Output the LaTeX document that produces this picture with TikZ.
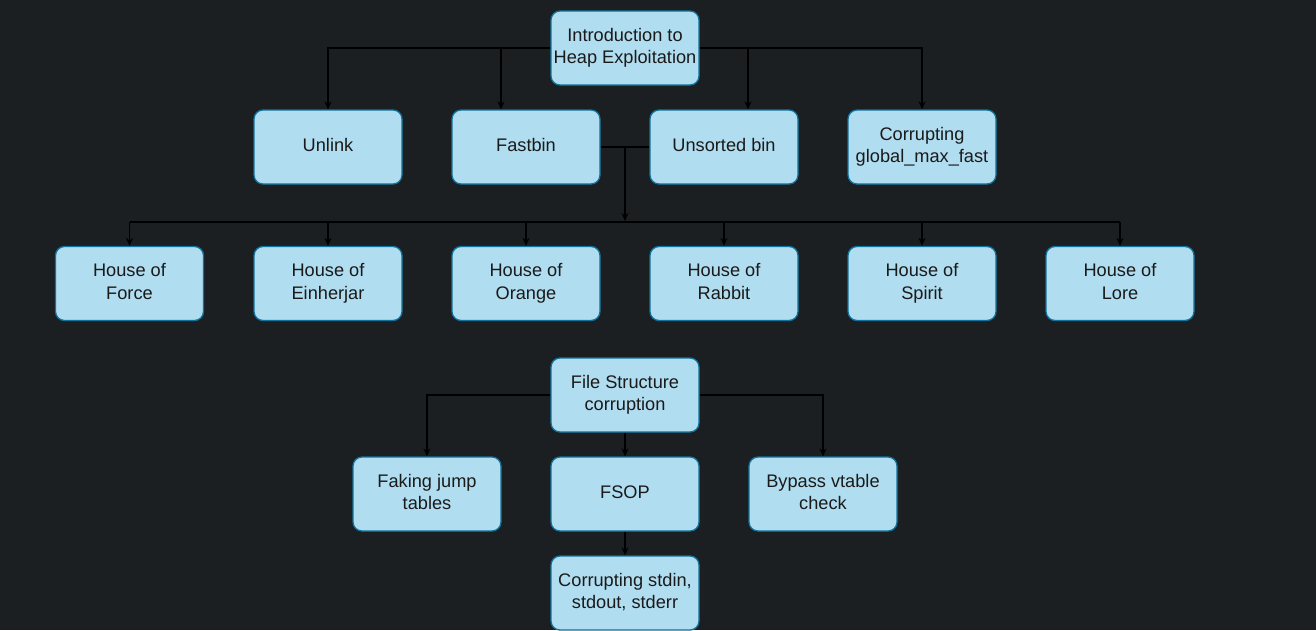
\documentclass[tikz,border=0pt]{standalone}
\usepackage{fontspec}
\setmainfont{Liberation Sans}
\usetikzlibrary{arrows.meta,calc}
\definecolor{bg}{HTML}{1C1F22}
\definecolor{boxfill}{HTML}{B1DDF0}
\definecolor{boxline}{HTML}{10739E}
\definecolor{txt}{HTML}{1A1A1A}
\tikzset{
  box/.style={draw=boxline, fill=boxfill, line width=1.3pt, rounded corners=9pt,
    minimum width=148pt, minimum height=74pt, align=center, text=txt,
    font=\fontsize{18.2}{22.5}\selectfont, inner sep=0pt},
  conn/.style={draw=black, line width=1.2pt},
  arr/.style={conn, -{Stealth[length=8pt,width=7pt]}},
}
\begin{document}
\begin{tikzpicture}[x=1pt,y=-1pt]
\fill[bg] (0,0) rectangle (1316,630);
\useasboundingbox (0,0) rectangle (1316,630);
% row 1
\node[box] (intro) at (625,48) {\strut Introduction to\\\strut Heap Exploitation};
% row 2
\node[box] (unlink) at (328,147) {\strut Unlink};
\node[box] (fastbin) at (526,147) {\strut Fastbin};
\node[box] (unsorted) at (724,147) {\strut Unsorted bin};
\node[box] (gmf) at (922,147) {\strut Corrupting\\\strut global\_max\_fast};
% row 3
\node[box] (hforce) at (129.5,283.5) {\strut House of\\\strut Force};
\node[box] (heinh) at (328,283.5) {\strut House of\\\strut Einherjar};
\node[box] (horange) at (526,283.5) {\strut House of\\\strut Orange};
\node[box] (hrabbit) at (724,283.5) {\strut House of\\\strut Rabbit};
\node[box] (hspirit) at (922,283.5) {\strut House of\\\strut Spirit};
\node[box] (hlore) at (1120,283.5) {\strut House of\\\strut Lore};
% file structure
\node[box] (fsc) at (625,395) {\strut File Structure\\\strut corruption};
\node[box] (fjt) at (427,494) {\strut Faking jump\\\strut tables};
\node[box] (fsop) at (625,494) {\strut FSOP};
\node[box] (bvc) at (823,494) {\strut Bypass vtable\\\strut check};
\node[box] (cstd) at (625,593) {\strut Corrupting stdin,\\\strut stdout, stderr};
% connectors row1 -> row2
\draw[arr] (intro.west) -| (unlink.north);
\draw[arr] (intro.west) -| ([xshift=-25pt]fastbin.north);
\draw[arr] (intro.east) -| ([xshift=24pt]unsorted.north);
\draw[arr] (intro.east) -| (gmf.north);
% row2 -> row3
\coordinate (mid) at ($(fastbin.east)!0.5!(unsorted.west)$);
\coordinate (hub) at (625,221);
\draw[conn] (fastbin.east) -- (unsorted.west);
\draw[arr] (mid) -- (hub);
\coordinate (busl) at (hforce.north |- 0,222);
\coordinate (busr) at (hlore.north |- 0,222);
\draw[conn] (busl) -- (busr);
\foreach \n in {hforce,heinh,horange,hrabbit,hspirit,hlore}{
  \draw[arr] (\n.north |- busl) -- (\n.north);
}
% file structure
\draw[arr] (fsc.west) -| (fjt.north);
\draw[arr] (fsc.east) -| (bvc.north);
\draw[arr] (fsc) -- (fsop);
\draw[arr] (fsop) -- (cstd);
\end{tikzpicture}
\end{document}
